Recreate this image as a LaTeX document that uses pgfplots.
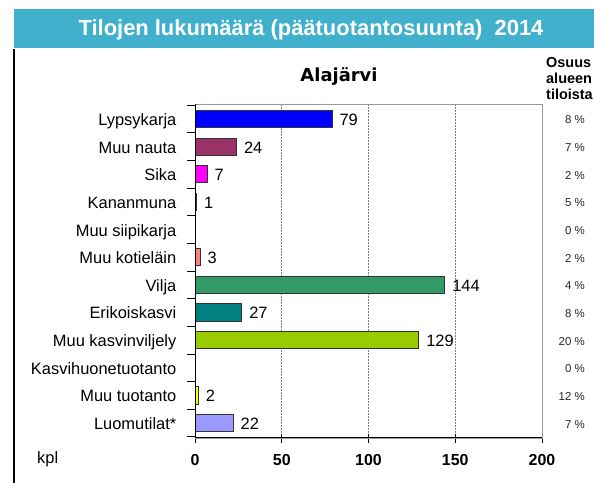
\documentclass[border=0pt]{standalone}
\usepackage{pgfplots}
\pgfplotsset{compat=1.18}
\usepackage{fontspec}
\setmainfont{Liberation Sans}
\newfontfamily\dejavu{DejaVu Sans}
\definecolor{banner}{RGB}{64,176,204}
\definecolor{cA}{HTML}{0000FF}
\definecolor{cB}{HTML}{993366}
\definecolor{cC}{HTML}{FF00FF}
\definecolor{cD}{HTML}{FFFFFF}
\definecolor{cF}{HTML}{FF8080}
\definecolor{cG}{HTML}{339966}
\definecolor{cH}{HTML}{008080}
\definecolor{cI}{HTML}{99CC00}
\definecolor{cK}{HTML}{FFFF00}
\definecolor{cL}{HTML}{9999FF}
\definecolor{edge}{HTML}{333333}
\begin{document}
\begin{tikzpicture}[x=1bp,y=1bp]
\path[use as bounding box] (0,0) rectangle (594,483);
\fill[banner] (14,435) rectangle (594,474);
\node[anchor=base, text=white, font=\fontsize{22}{26}\selectfont\bfseries, inner sep=0pt] at (311,447) {Tilojen lukumäärä (päätuotantosuunta)\ \ 2014};
\draw[line width=1.5bp] (14,0) -- (14,434);
\node[anchor=base, font=\dejavu\fontsize{18}{21}\selectfont\bfseries, inner sep=0pt] at (339,401) {Alajärvi};
\node[anchor=base west, font=\fontsize{14.5}{16}\selectfont\bfseries, inner sep=0pt] at (546,415) {Osuus};
\node[anchor=base west, font=\fontsize{14.5}{16}\selectfont\bfseries, inner sep=0pt] at (546,399) {alueen};
\node[anchor=base west, font=\fontsize{14.5}{16}\selectfont\bfseries, inner sep=0pt] at (546,383) {tiloista};
\node[anchor=base west, font=\fontsize{16.5}{19}\selectfont, inner sep=0pt] at (37,19) {kpl};
\begin{axis}[
  at={(195bp,45bp)}, anchor=south west, scale only axis,
  width=347bp, height=334bp,
  clip=false,
  xbar, bar shift=0pt, bar width=0.62,
  xmin=0, xmax=200, ymin=0.46, ymax=12.54, y dir=reverse,
  xtick={0,50,100,150,200},
  ytick={1,...,12},
  yticklabels={Lypsykarja,Muu nauta,Sika,Kananmuna,Muu siipikarja,Muu kotieläin,Vilja,Erikoiskasvi,Muu kasvinviljely,Kasvihuonetuotanto,Muu tuotanto,Luomutilat*},
  minor ytick={0.5,1.5,...,12.5},
  tick pos=left,
  tick align=center, major tick length=9bp, minor tick length=8bp,
  every major y tick/.append style={draw=none},
  every minor y tick/.append style={xshift=-4bp, black, line width=0.8bp},
  every major x tick/.append style={black, line width=0.8bp},
  axis line style={draw=gray!80, line width=0.8bp},
  xmajorgrids,
  major grid style={gray, dash pattern=on 2bp off 1bp, line width=0.8bp},
  /pgf/number format/assume math mode=true,
  xticklabel style={anchor=base, inner sep=0pt, yshift=-23bp, font=\fontsize{16}{19}\selectfont\bfseries},
  yticklabel style={anchor=base east, inner sep=0pt, xshift=-14bp, yshift=-6.5bp, font=\fontsize{16.5}{19}\selectfont},
  valbar/.style={draw=edge, line width=0.9bp, nodes near coords,
    every node near coord/.append style={anchor=base west, inner sep=0pt, xshift=7bp, yshift=-6.5bp, font=\fontsize{16.5}{19}\selectfont, text=black}},
]
\addplot[valbar, fill=cA] coordinates {(79,1)};
\addplot[valbar, fill=cB] coordinates {(24,2)};
\addplot[valbar, fill=cC] coordinates {(7,3)};
\addplot[valbar, fill=cD] coordinates {(1,4)};
\addplot[draw=none, fill=none] coordinates {(0,5)};
\addplot[valbar, fill=cF] coordinates {(3,6)};
\addplot[valbar, fill=cG] coordinates {(144,7)};
\addplot[valbar, fill=cH] coordinates {(27,8)};
\addplot[valbar, fill=cI] coordinates {(129,9)};
\addplot[draw=none, fill=none] coordinates {(0,10)};
\addplot[valbar, fill=cK] coordinates {(2,11)};
\addplot[valbar, fill=cL] coordinates {(22,12)};
\foreach \i/\p in {1/8,2/7,3/2,4/5,5/0,6/2,7/4,8/8,9/20,10/0,11/12,12/7}{
  \edef\tmp{\noexpand\node[anchor=base east, inner sep=0pt, font=\noexpand\fontsize{11.5}{13}\noexpand\selectfont, text=black!85] at ([xshift=43bp, yshift=-5bp]axis cs:200,\i) {\p\noexpand\ \noexpand\%};}
  \tmp
}
\end{axis}
\draw[line width=1bp] (195,379) -- (195,45) -- (542,45);
\end{tikzpicture}
\end{document}
